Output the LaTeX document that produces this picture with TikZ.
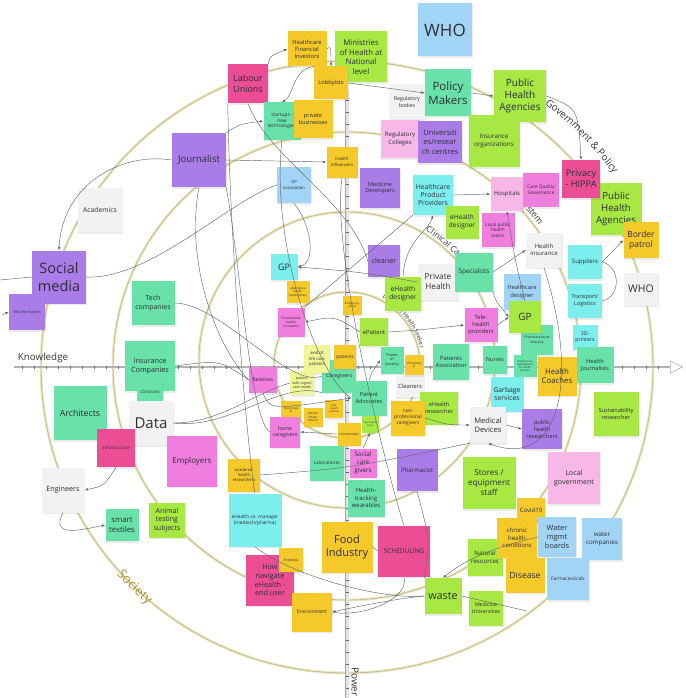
\documentclass[tikz,border=0pt]{standalone}
\usepackage{fontspec}
\setmainfont{Open Sans}
\usepackage{tikz}
\usepackage{xcolor}
\usetikzlibrary{arrows.meta}
\usetikzlibrary{decorations.text}
\usetikzlibrary{shadows}

\definecolor{nyellow}{RGB}{246,201,42}
\definecolor{nlime}{RGB}{168,232,66}
\definecolor{nteal}{RGB}{104,226,168}
\definecolor{npurple}{RGB}{170,124,232}
\definecolor{nmagenta}{RGB}{236,78,150}
\definecolor{npink}{RGB}{240,126,222}
\definecolor{nlightpink}{RGB}{247,184,232}
\definecolor{nblue}{RGB}{162,212,246}
\definecolor{ncyan}{RGB}{124,238,238}
\definecolor{nwhite}{RGB}{242,242,242}
\definecolor{npale}{RGB}{240,245,150}
\definecolor{notetext}{RGB}{45,45,55}
\definecolor{linkgray}{RGB}{95,105,105}
\definecolor{ringdark}{RGB}{200,192,132}
\definecolor{ringlight}{RGB}{237,234,208}
\definecolor{ringtext}{RGB}{172,148,48}
\definecolor{labeltext}{RGB}{55,55,60}
\definecolor{tickgray}{RGB}{105,105,105}

\tikzset{
  note/.style={fill=#1, inner sep=0.5pt, align=center, text=notetext,
    drop shadow={shadow xshift=0.6pt, shadow yshift=-1.8pt, opacity=0.16}},
  sz/.style 2 args={minimum width=#1pt, minimum height=#2pt},
  fs/.style={font=\fontsize{#1}{\fpeval{1.22*#1}}\selectfont},
  link/.style={draw=linkgray, line width=0.45pt},
  tip/.style={-{Latex[length=3.4pt,width=2.6pt]}},
  ring/.style={draw=ringdark, line width=0.9pt, preaction={draw=ringlight, line width=3pt}},
  axtick/.style={draw=tickgray, line width=0.5pt}
}

\begin{document}
\begin{tikzpicture}[x=1pt,y=-1pt]
\useasboundingbox (0,0) rectangle (685,698);

\draw[ring] (347,367) circle (306);
\draw[ring] (347,366) circle (234);
\draw[ring] (347,360) circle (148);
\draw[ring] (347,365) circle (73);

\path[decorate, decoration={text along path, text align=center, text color=ringtext, raise=-4pt,
  text={|\fontsize{13}{15}\selectfont|Society}}]
  (347,367) ++(143:306) arc[start angle=143, end angle=125, radius=306];
\path[decorate, decoration={text along path, text align=center, text color=labeltext,
  text={|\fontsize{10}{12}\selectfont|Government {\&} Policy}}]
  (347,367) ++(-58:329) arc[start angle=-58, end angle=-31, radius=329];
\path[decorate, decoration={text along path, text align=center, text color=labeltext,
  text={|\fontsize{9}{11}\selectfont|Health System}}]
  (347,366) ++(-56:238) arc[start angle=-56, end angle=-31, radius=238];
\path[decorate, decoration={text along path, text align=center, text color=labeltext,
  text={|\fontsize{8.5}{10}\selectfont|Clinical Care}}]
  (347,360) ++(-62:151) arc[start angle=-62, end angle=-37, radius=151];
\path[decorate, decoration={text along path, text align=center, text color=labeltext,
  text={|\fontsize{6}{7}\selectfont|Personal Health Seeker}}]
  (347,365) ++(-66:75) arc[start angle=-66, end angle=-9, radius=75];

\coordinate (kstart) at (14,367);
\coordinate (kend) at (683,367);
\coordinate (ptop) at (347,90);
\coordinate (pend) at (347,698);
\draw[draw=gray!60, line width=1.3pt, -{Triangle[open, length=13pt, width=13pt, line width=0.6pt]}] (kstart) -- (kend);
\foreach \k in {22,34,...,660} \draw[axtick] (\k,365.5) -- (\k,368.5);
\draw[draw=gray!70, line width=4.2pt] (ptop) -- (pend);
\draw[draw=gray!22, line width=3pt] (ptop) -- (pend);
\foreach \k in {100,112,...,696} \draw[axtick] (345.5,\k) -- (348.5,\k);
\node[fs=9.8, text=labeltext] (knowledge) at (43,358) {Knowledge};
\node[fs=9.8, text=labeltext, rotate=-90] (power) at (355,682) {Power};

\node[note=nblue, sz={54}{53}, fs=17] (whoT) at (445,30) {WHO};
\node[note=nyellow, sz={39}{35}, fs=5.8] (investors) at (307,49) {Healthcare\\Financial\\Investors};
\node[note=nlime, sz={52}{51}, fs=7.8] (ministries) at (361,57) {Ministries\\of Health at\\National\\level};
\node[note=nmagenta, sz={40}{39}, fs=9] (labour) at (248,84) {Labour\\Unions};
\node[note=nyellow, sz={34}{33}, fs=5.8] (lobby) at (331,83) {Lobbyists};
\node[note=nwhite, sz={36}{35}, fs=5.2] (regbodies) at (407,102) {Regulatory\\bodies};
\node[note=nteal, sz={46}{47}, fs=11.5] (policy) at (448,93) {Policy\\Makers};
\node[note=nlime, sz={52}{52}, fs=10] (phaA) at (520,96) {Public\\Health\\Agencies};
\node[note=nteal, sz={37}{37}, fs=4.8] (startups) at (282,121) {startups -\\new\\technologies};
\node[note=nyellow, sz={39}{38}, fs=5.6] (privbiz) at (313,119) {private\\businesses};
\node[note=npurple, sz={54}{54}, fs=9.5] (journalist) at (199,160) {Journalist};
\node[note=nlightpink, sz={39}{38}, fs=6] (regcolleges) at (400,139) {Regulatory\\Colleges};
\node[note=npurple, sz={44}{42}, fs=7.6] (unis) at (440,142) {Universiti\\es/resear\\ch centres};
\node[note=nlime, sz={51}{52}, fs=6.3] (insorg) at (494,141) {Insurance\\organizations};
\node[note=nyellow, sz={31}{31}, fs=4.3] (influencers) at (342,162) {Health\\Influencers};
\node[note=nblue, sz={34}{36}, fs=4.2] (gpassoc) at (294,185) {GP\\association};
\node[note=npurple, sz={40}{40}, fs=5.6] (meddevel) at (380,188) {Medicine\\Developers};
\node[note=nwhite, sz={45}{44}, fs=6.8] (academics) at (100,210) {Academics};
\node[note=ncyan, sz={40}{40}, fs=6.8] (hpp) at (433,195) {Healthcare\\Product\\Providers};
\node[note=nlightpink, sz={33}{34}, fs=6] (hospitals) at (507,194) {Hospitals};
\node[note=npink, sz={36}{34}, fs=4.8] (cqg) at (541,190) {Care Quality\\Governance};
\node[note=nlime, sz={51}{52}, fs=9.7] (phaB) at (616,209) {Public\\Health\\Agencies};
\node[note=nmagenta, sz={38}{38}, fs=9.2] (privacy) at (581,179) {Privacy\\- HIPPA};
\node[note=nlime, sz={33}{33}, fs=6.5] (ehdesA) at (462,222) {eHealth\\designer};
\node[note=npink, sz={33}{34}, fs=4.6] (localteams) at (498,230) {Local public\\health\\teams};
\node[note=nyellow, sz={35}{36}, fs=8.5] (border) at (641,240) {Border\\patrol};
\node[note=nwhite, sz={36}{35}, fs=6] (healthins) at (544,250) {Health\\insurance};
\node[note=npurple, sz={32}{32}, fs=7.2] (cleaner) at (384,261) {cleaner};
\node[note=ncyan, sz={27}{26}, fs=9] (gpL) at (284,267) {GP};
\node[note=nwhite, sz={40}{36}, fs=8.2] (privhealth) at (438,282) {Private\\Health};
\node[note=nteal, sz={38}{39}, fs=6.4] (specialists) at (474,272) {Specialists};
\node[note=ncyan, sz={34}{34}, fs=6] (suppliers) at (585,262) {Suppliers};
\node[note=npurple, sz={54}{53}, fs=14.5] (socialmedia) at (59,277) {Social\\media};
\node[note=nteal, sz={43}{44}, fs=6.9] (techco) at (153,303) {Tech\\companies};
\node[note=nyellow, sz={23}{22}, fs=3] (hpract) at (298,292) {alternative\\health\\practitioners};
\node[note=nlime, sz={36}{34}, fs=6.8] (ehdesB) at (403,294) {eHealth\\designer};
\node[note=nyellow, sz={19}{19}, fs=2.8] (emerg) at (352,305) {Emergency\\rooms};
\node[note=nwhite, sz={34}{33}, fs=10.5] (whoR) at (641,289) {WHO};
\node[note=nblue, sz={37}{36}, fs=5.8] (hcdesigner) at (522,292) {Healthcare\\designer};
\node[note=ncyan, sz={34}{34}, fs=5.5] (transport) at (585,301) {Transport/\\Logistics};
\node[note=npurple, sz={36}{36}, fs=3.8] (misinfo) at (27,312) {Misinformation};
\node[note=npink, sz={27}{29}, fs=3.3] (prevent) at (291,322) {Preventative\\health\\innovators};
\node[note=nlime, sz={28}{28}, fs=5.8] (epatient) at (374,332) {ePatient};
\node[note=npink, sz={33}{34}, fs=5.8] (telehealth) at (481,325) {Tele-\\health\\providers};
\node[note=nteal, sz={32}{30}, fs=3.5] (pharmind) at (537,340) {Pharmaceutical\\industry};
\node[note=nlime, sz={32}{32}, fs=10] (gpR) at (525,317) {GP};
\node[note=ncyan, sz={25}{25}, fs=5.2] (printers) at (585,337) {3D-\\printers};
\node[note=nteal, sz={50}{50}, fs=7.2] (inscos) at (150,366) {Insurance\\Companies};
\node[note=nteal, sz={26}{20}, fs=4.4] (clinicians) at (150,392) {Clinicians};
\node[note=nwhite, sz={44}{44}, fs=15] (data) at (151,423) {Data};
\node[note=nteal, sz={53}{54}, fs=8.8] (architects) at (80,413) {Architects};
\node[note=nmagenta, sz={38}{38}, fs=4.3] (infra) at (116,448) {Infrastructure};
\node[note=npink, sz={50}{51}, fs=8] (employers) at (192,461) {Employers};
\node[note=nwhite, sz={43}{45}, fs=7.2] (engineers) at (63,490) {Engineers};
\node[note=nteal, sz={33}{32}, fs=7.8] (textiles) at (122,525) {smart\\textiles};
\node[note=nlime, sz={36}{35}, fs=7] (animal) at (167,520) {Animal\\testing\\subjects};
\node[note=nteal, sz={34}{33}, fs=5.4] (caregivers) at (339,376) {Caregivers};
\node[note=npale, sz={26}{28}, fs=4.2] (endlife) at (317,359) {end of\\life care\\patients};
\node[note=nyellow, sz={22}{24}, fs=4.6] (patients) at (345,357) {patients};
\node[note=nteal, sz={23}{27}, fs=3.8] (poverty) at (392,360) {Power\\of\\poverty};
\node[note=nwhite, sz={29}{22}, fs=5.8] (cleaners) at (410,386) {Cleaners};
\node[note=nyellow, sz={19}{20}, fs=2.9] (chronicA) at (414,365) {Chronically\\ill};
\node[note=nteal, sz={36}{36}, fs=5.8] (patassoc) at (451,362) {Patients\\Association};
\node[note=nteal, sz={24}{28}, fs=5.4] (nurses) at (495,360) {Nurses};
\node[note=nteal, sz={23}{22}, fs=2.6] (profdev) at (525,366) {Professional\\development\\for health\\workers};
\node[note=nyellow, sz={39}{39}, fs=7.8] (coaches) at (557,376) {Health\\Coaches};
\node[note=nteal, sz={37}{36}, fs=5.7] (hjourn) at (595,365) {Health\\Journalists};
\node[note=npink, sz={28}{26}, fs=5] (relatives) at (263,380) {Relatives};
\node[note=npale, sz={24}{24}, fs=3.6] (urgent) at (302,383) {patient\\with urgent\\care needs};
\node[note=nteal, sz={35}{35}, fs=5.6] (advocates) at (369,398) {Patient\\Advocates};
\node[note=nlime, sz={38}{33}, fs=5.6] (ehres) at (439,408) {eHealth\\researcher};
\node[note=nyellow, sz={34}{35}, fs=4.8] (nonprof) at (408,418) {non-\\professional\\caregivers};
\node[note=ncyan, sz={33}{35}, fs=6.8] (garbage) at (507,394) {Garbage\\services};
\node[note=nlime, sz={45}{44}, fs=5.6] (sustain) at (616,414) {Sustainability\\researcher};
\node[note=nyellow, sz={20}{19}, fs=2.8] (chronicB) at (291,410) {Chronically\\ill};
\node[note=nyellow, sz={19}{19}, fs=2.9] (mental) at (313,417) {Mental\\Health\\Patient};
\node[note=nyellow, sz={18}{18}, fs=2.6] (telepat) at (334,409) {Tele-\\health\\patients};
\node[note=npink, sz={30}{31}, fs=5.2] (homecare) at (285,432) {home\\caregivers};
\node[note=nyellow, sz={23}{23}, fs=3.2] (unmotivated) at (349,434) {Unmotivated};
\node[note=nlime, sz={17}{17}, fs=2.5] (vaccinated) at (370,424) {Vaccinated\\users};
\node[note=nwhite, sz={36}{36}, fs=7.6] (meddev) at (488,425) {Medical\\Devices};
\node[note=npurple, sz={40}{40}, fs=5.7] (pubres) at (542,429) {public\\health\\researchers};
\node[note=nyellow, sz={32}{33}, fs=4.2] (acadres) at (244,475) {academic\\health\\researchers};
\node[note=nteal, sz={34}{35}, fs=4.5] (labs) at (327,463) {Laboratories};
\node[note=npink, sz={27}{29}, fs=6.3] (socialcare) at (363,463) {Social\\care\\givers};
\node[note=npurple, sz={41}{42}, fs=6.1] (pharmacist) at (417,470) {Pharmacist};
\node[note=nlime, sz={53}{52}, fs=8.2] (stores) at (489,483) {Stores /\\equipment\\staff};
\node[note=nlightpink, sz={52}{52}, fs=7] (localgov) at (574,478) {Local\\government};
\node[note=nteal, sz={37}{37}, fs=6] (wearables) at (366,498) {Health-\\tracking\\wearables};
\node[note=ncyan, sz={53}{53}, fs=4.8] (ehmanager) at (255,520) {eHealth co. manager\\(medtech/pharma)};
\node[note=nyellow, sz={28}{25}, fs=6] (covid) at (531,510) {Covid19};
\node[note=nlime, sz={35}{37}, fs=6.1] (natural) at (485,557) {Natural\\resources};
\node[note=nyellow, sz={40}{40}, fs=6] (chronicC) at (517,538) {chronic\\health\\conditions};
\node[note=nblue, sz={38}{40}, fs=7.4] (water) at (557,537) {Water\\mgmt\\boards};
\node[note=nblue, sz={40}{42}, fs=6.2] (watercos) at (602,539) {water\\companies};
\node[note=nyellow, sz={51}{51}, fs=11] (food) at (347,547) {Food\\Industry};
\node[note=nmagenta, sz={52}{51}, fs=6.5] (scheduling) at (404,551) {SCHEDULING};
\node[note=nmagenta, sz={48}{51}, fs=7.3] (navigate) at (270,580) {How\\navigate\\eHealth -\\end user};
\node[note=nyellow, sz={24}{24}, fs=3.4] (antibiotic) at (291,560) {Antibiotic};
\node[note=nyellow, sz={39}{35}, fs=8.6] (disease) at (525,575) {Disease};
\node[note=nblue, sz={42}{42}, fs=4.8] (pharma) at (568,579) {Farmaceuticals};
\node[note=nlime, sz={37}{36}, fs=10.8] (waste) at (443,596) {waste};
\node[note=nyellow, sz={40}{39}, fs=5] (environment) at (312,612) {Environment};
\node[note=nlime, sz={34}{35}, fs=5.2] (meduni) at (486,608) {Medicine\\Universities};

\coordinate (mleft) at (2,315);
\coordinate (smleft) at (0,280);
\coordinate (mu) at (527,611);

\draw[link,tip] (lobby.east) -- (policy.west);
\draw[link,tip] (policy.east) -- (phaA.west);
\draw[link,tip] (investors.east) .. controls (331,46) .. (lobby.north);
\draw[link,tip] (labour.north east) .. controls (270,56) .. (investors.west);
\draw[link,tip] (lobby.north west) .. controls (292,70) and (294,95) .. (startups.north);
\draw[link,tip] (journalist.north east) .. controls (240,124) .. (startups.west);
\draw[link,tip] (journalist.east) -- (influencers.west);
\draw[link,tip] (journalist.west) .. controls (120,152) and (62,185) .. (socialmedia.north);
\draw[link] (socialmedia.east) .. controls (150,280) and (230,200) .. (gpassoc.west);
\draw[link,tip] (phaA.east) .. controls (578,108) .. (privacy.north);
\draw[link,tip] (hpp.east) -- (hospitals.west);
\draw[link,tip] (specialists.east) .. controls (508,262) .. (healthins.west);
\draw[link,tip] (gpR.north) .. controls (515,260) .. (hospitals.south);
\draw[link,tip] (specialists.south east) .. controls (495,300) .. (gpR.west);
\draw[link,tip] (telehealth.east) -- (gpR.west);
\draw[link,tip] (suppliers.east) .. controls (612,252) .. (border.west);
\draw[link] (transport.east) .. controls (622,296) and (620,266) .. (suppliers.east);
\draw[link,tip] (privhealth.west) .. controls (360,272) .. (gpL.east);
\draw[link,tip] (gpassoc.south) .. controls (312,226) and (316,262) .. (gpL.east);
\draw[link,tip] (ehdesB.north) .. controls (405,240) and (428,232) .. (hpp.south);
\draw[link,tip] (epatient.west) .. controls (335,316) .. (prevent.east);
\draw[link,tip] (epatient.east) .. controls (420,330) .. (telehealth.west);
\draw[link,tip] (meddev.east) -- (pubres.west);
\draw[link,tip] (healthins.south) .. controls (580,380) and (560,470) .. (meddev.south);
\draw[link,tip] (nonprof.east) .. controls (448,425) .. (meddev.west);
\draw[link] (acadres.east) .. controls (350,468) .. (meddev.south west);
\draw[link,tip] (advocates.north) .. controls (372,372) .. (poverty.west);
\draw[link,tip] (relatives.south) .. controls (270,410) .. (advocates.west);
\draw[link,tip] (unmotivated.west) -- (homecare.east);
\draw[link,tip] (socialcare.north) -- (vaccinated.south);
\draw[link] (journalist.south) .. controls (185,260) and (215,345) .. (relatives.west);
\draw[link] (journalist.south east) .. controls (240,260) and (250,420) .. (homecare.west);
\draw[link] (startups.south) .. controls (270,250) and (320,380) .. (advocates.west);
\draw[link] (techco.east) .. controls (220,303) and (290,390) .. (caregivers.west);
\draw[link] (inscos.east) .. controls (220,360) .. (relatives.west);
\draw[link] (data.east) .. controls (220,423) and (250,395) .. (urgent.west);
\draw[link] (data.east) .. controls (230,430) and (280,380) .. (caregivers.south west);
\draw[link] (labour.south) .. controls (270,160) and (350,200) .. (cleaner.west);
\draw[link] (labour.south west) .. controls (230,260) and (250,470) .. (ehmanager.north);
\draw[link] (influencers.south) .. controls (330,260) and (395,500) .. (scheduling.north);
\draw[link] (hpp.south west) -- (prevent.north east);
\draw[link,tip] (infra.south) .. controls (104,486) .. (engineers.east);
\draw[link,tip] (engineers.south) .. controls (50,538) and (80,530) .. (textiles.west);
\draw[link,tip] (mleft) -- (misinfo.west);
\draw[link] (smleft) -- (socialmedia.west);
\draw[link] (food.east) -- (scheduling.west);
\draw[link] (ehmanager.south) .. controls (290,575) and (380,600) .. (waste.west);
\draw[link,tip] (waste.west) .. controls (400,598) and (360,606) .. (environment.east);
\draw[link] (scheduling.south) .. controls (410,600) and (360,618) .. (environment.east);
\draw[link,tip] (water.west) .. controls (500,546) and (470,556) .. (waste.north);
\draw[link] (waste.east) -- (mu);
\draw[link] (pharmacist.south) .. controls (430,540) .. (waste.north west);
\end{tikzpicture}
\end{document}
